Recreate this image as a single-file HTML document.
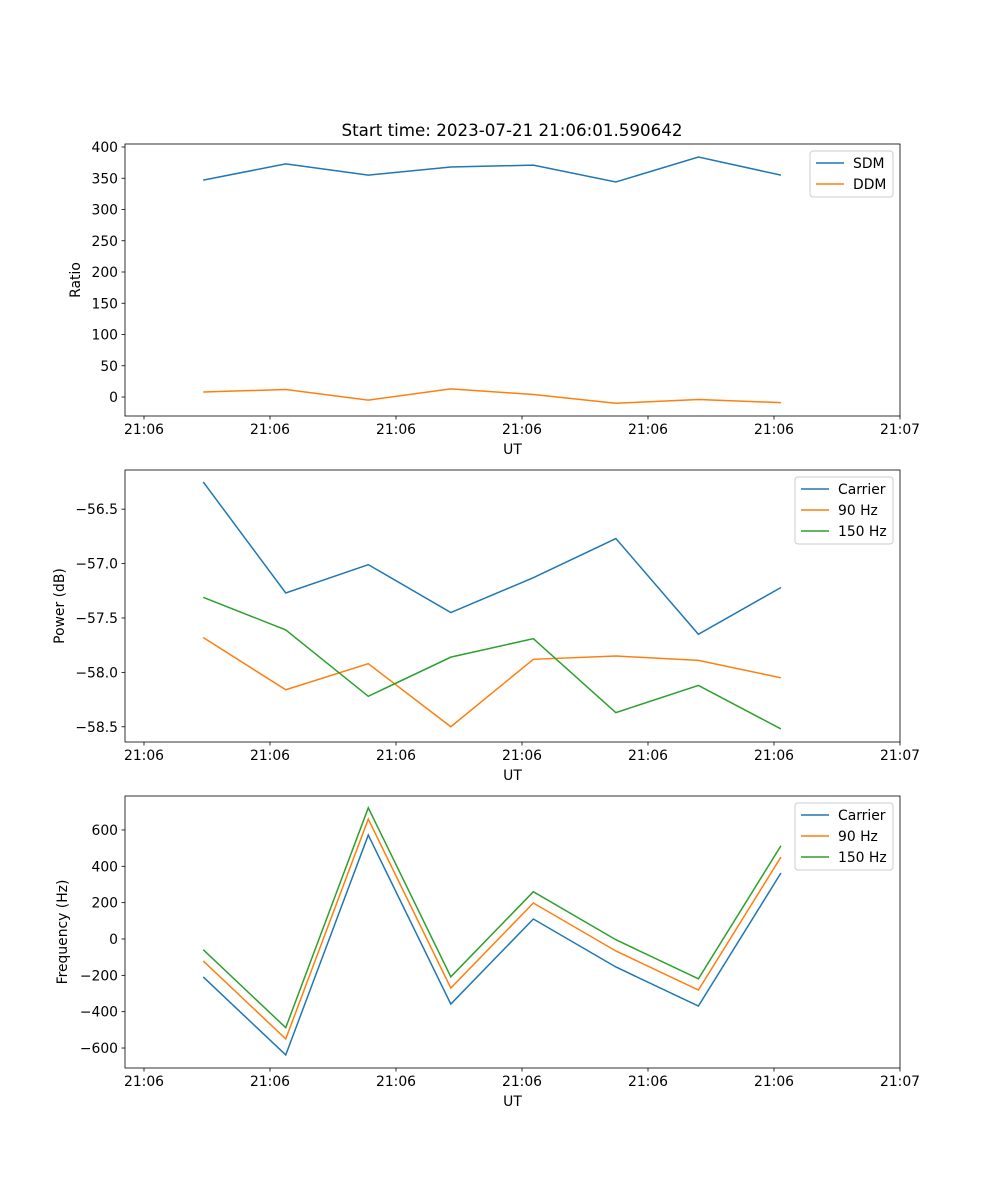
<!DOCTYPE html>
<html><head><meta charset="utf-8"><style>
body{margin:0;background:#fff}
svg{display:block;font-family:"DejaVu Sans","Liberation Sans",sans-serif}
</style></head><body>
<svg id="fig" width="1000" height="1200" xmlns="http://www.w3.org/2000/svg"></svg>
<script>
const times=[4.7,11.25,17.8,24.35,30.9,37.45,44.0,50.55];
const tickSecs=[0,10,20,30,40,50,60];
const tickLabels=["21:06","21:06","21:06","21:06","21:06","21:06","21:07"];
const sdm=[347,373,355,368,371,344,384,355];
const ddm=[8,12,-5,13,4,-10,-4,-9];
const pCarrier=[-56.25,-57.27,-57.01,-57.45,-57.13,-56.77,-57.65,-57.22];
const p90=[-57.68,-58.16,-57.92,-58.5,-57.88,-57.85,-57.89,-58.05];
const p150=[-57.31,-57.61,-58.22,-57.86,-57.69,-58.37,-58.12,-58.52];
const fCarrier=[-209,-638,572,-358,110,-154,-369,363];
const f90=[-121,-550,660,-270,198,-66,-281,451];
const f150=[-59,-488,722,-208,260,-4,-219,513];
const yTicks1=[0,50,100,150,200,250,300,350,400];
const yTicks2=[-58.5,-58.0,-57.5,-57.0,-56.5];
const yTicks3=[-600,-400,-200,0,200,400,600];

const svg=document.getElementById('fig');
const NS='http://www.w3.org/2000/svg';
function el(tag,attrs,parent){const e=document.createElementNS(NS,tag);for(const k in attrs)e.setAttribute(k,attrs[k]);(parent||svg).appendChild(e);return e;}
const L=125,R=900,xmin=-1.508,xmax=60;
function xs(t){return L+(t-xmin)/(xmax-xmin)*(R-L);}
const colors=['#1f77b4','#ff7f0e','#2ca02c'];

function panel(name,top,bot,ymin,ymax,yt,fmt,ylabel,series,names,legend){
  const g=el('g',{});
  
  
  const ys=v=>bot-(v-ymin)/(ymax-ymin)*(bot-top);
  series.forEach((s,i)=>{
    const p=el('polyline',{points:s.map((v,j)=>xs(times[j])+','+ys(v)).join(' '),fill:'none',stroke:colors[i],'stroke-width':1.5},g);
    
    
  });
  const fr=el('rect',{x:L,y:top,width:R-L,height:bot-top,fill:'none',stroke:'#000','stroke-width':0.8},g);
  
  
  tickSecs.forEach((t,i)=>{
    const x=xs(t);
    el('line',{x1:x,x2:x,y1:bot,y2:bot+3.5,stroke:'#000','stroke-width':0.8},g);
    const tx=el('text',{x:x,y:bot+18,'text-anchor':'middle','font-size':13.9},g);
    tx.textContent=tickLabels[i];
    
    
  });
  yt.forEach(v=>{
    const y=ys(v);
    el('line',{x1:L-3.5,x2:L,y1:y,y2:y,stroke:'#000','stroke-width':0.8},g);
    const tx=el('text',{x:L-7,y:y+5,'text-anchor':'end','font-size':13.9},g);
    tx.textContent=fmt(v);
    
    
  });
  const xl=el('text',{x:(L+R)/2,y:bot+38,'text-anchor':'middle','font-size':13.9},g);
  xl.textContent='UT';
  
  
  const yx=legend.ylx, yy=(top+bot)/2;
  const yl=el('text',{x:yx,y:yy,'text-anchor':'middle','font-size':13.9,transform:`rotate(-90 ${yx} ${yy})`},g);
  yl.textContent=ylabel;
  
  
  const lg=el('g',{},g);
  
  
  const n=names.length,lh=21;
  el('rect',{x:legend.x,y:top+7,width:R-7-legend.x,height:n*lh+4,rx:3,fill:'#fff','fill-opacity':0.8,stroke:'#ccc','stroke-width':1},lg);
  names.forEach((nm,i)=>{
    const y=top+19+i*lh;
    el('line',{x1:legend.x+6,x2:legend.x+34,y1:y,y2:y,stroke:colors[i],'stroke-width':1.5},lg);
    const t=el('text',{x:legend.x+43,y:y+5,'font-size':13.9},lg);
    t.textContent=nm;
    
    
  });
}
const title=el('text',{x:512,y:136,'text-anchor':'middle','font-size':16.7});
title.textContent='Start time: 2023-07-21 21:06:01.590642';


panel('ratio-panel',144,416,-30.4,404.8,yTicks1,v=>String(v),'Ratio',[sdm,ddm],['SDM','DDM'],{x:810,ylx:80});
panel('power-panel',470,742,-58.64,-56.14,yTicks2,v=>'\u2212'+Math.abs(v).toFixed(1),'Power (dB)',[pCarrier,p90,p150],['Carrier','90 Hz','150 Hz'],{x:795,ylx:64});
panel('frequency-panel',796,1068,-710,787,yTicks3,v=>(v<0?'\u2212':'')+Math.abs(v),'Frequency (Hz)',[fCarrier,f90,f150],['Carrier','90 Hz','150 Hz'],{x:795,ylx:67});
</script>
</body></html>
